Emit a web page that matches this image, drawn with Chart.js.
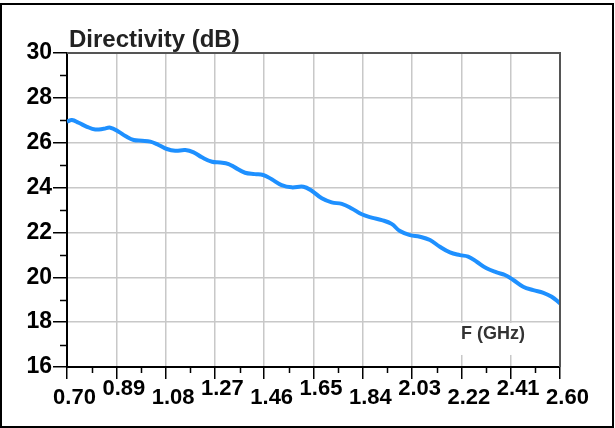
<!DOCTYPE html>
<html>
<head>
<meta charset="utf-8">
<script src="https://cdn.jsdelivr.net/npm/chart.js@4/dist/chart.umd.min.js"></script>
<style>
  html, body { margin: 0; padding: 0; background: #fff; }
  canvas { display: block; }
</style>
</head>
<body>
<canvas id="dirChart" width="615" height="428"></canvas>
<script>
// Directivity vs frequency
const freqGHz = [0.700, 0.719, 0.745, 0.777, 0.809, 0.841, 0.867, 0.899, 0.925, 0.957,
                 0.989, 1.021, 1.053, 1.085, 1.117, 1.156, 1.188, 1.220, 1.259, 1.291,
                 1.323, 1.347, 1.386, 1.424, 1.456, 1.489, 1.527, 1.566, 1.611, 1.643,
                 1.682, 1.720, 1.759, 1.797, 1.836, 1.874, 1.913, 1.951, 1.983, 2.022,
                 2.060, 2.099, 2.137, 2.176, 2.214, 2.246, 2.279, 2.317, 2.356, 2.388,
                 2.420, 2.458, 2.497, 2.536, 2.568, 2.600];
const directivityDb = [26.94, 27.01, 26.89, 26.71, 26.59, 26.62, 26.67, 26.49, 26.30, 26.12,
                       26.09, 26.05, 25.90, 25.72, 25.64, 25.67, 25.57, 25.35, 25.15, 25.12,
                       25.05, 24.90, 24.66, 24.60, 24.56, 24.37, 24.11, 24.01, 24.04, 23.86,
                       23.52, 23.34, 23.27, 23.07, 22.81, 22.66, 22.55, 22.38, 22.06, 21.88,
                       21.81, 21.66, 21.36, 21.11, 20.99, 20.92, 20.69, 20.40, 20.22, 20.10,
                       19.88, 19.58, 19.43, 19.31, 19.13, 18.84];

const xTickValues = [0.70, 0.89, 1.08, 1.27, 1.46, 1.65, 1.84, 2.03, 2.22, 2.41, 2.60];
const xTickLabels = ['0.70', '0.89', '1.08', '1.27', '1.46', '1.65', '1.84', '2.03', '2.22', '2.41', '2.60'];
const yMinorValues = [17, 19, 21, 23, 25, 27, 29];

const titleText = 'Directivity (dB)';
const xAxisText = 'F (GHz)';

const points = freqGHz.map((f, i) => ({ x: f, y: directivityDb[i] }));

const FONT = '"Liberation Sans", Arial, sans-serif';

// extra drawing: frame, minor ticks, alternating x labels, titles
const decorPlugin = {
    id: 'decor',
    beforeDatasetsDraw(chart) {
        const ctx = chart.ctx;
        const y = chart.scales.y;
        // white box behind the x axis caption
        const cx = 492, cy = y.getPixelForValue(17.25);
        ctx.save();
        ctx.fillStyle = '#fff';
        ctx.fillRect(cx - 40, cy - 16, 80, 32);
        ctx.restore();
    },
    afterDraw(chart) {
        const ctx = chart.ctx;
        const area = chart.chartArea;
        const x = chart.scales.x, y = chart.scales.y;
        ctx.save();

        // top and right edges of the plot box
        ctx.strokeStyle = '#555';
        ctx.lineWidth = 2;
        ctx.beginPath();
        ctx.moveTo(area.left, area.top);
        ctx.lineTo(area.right, area.top);
        ctx.lineTo(area.right, area.bottom);
        ctx.stroke();

        // minor ticks
        ctx.strokeStyle = '#000';
        ctx.lineWidth = 1.5;
        ctx.beginPath();
        yMinorValues.forEach(v => {
            const py = Math.round(y.getPixelForValue(v)) + 0.5;
            ctx.moveTo(area.left - 7, py);
            ctx.lineTo(area.left, py);
        });
        for (let i = 0; i < xTickValues.length - 1; i++) {
            const px = Math.round(x.getPixelForValue((xTickValues[i] + xTickValues[i + 1]) / 2)) + 0.5;
            ctx.moveTo(px, area.bottom);
            ctx.lineTo(px, area.bottom + 6);
        }
        ctx.stroke();

        // x tick labels, staggered
        ctx.fillStyle = '#000';
        ctx.font = 'bold 22px ' + FONT;
        ctx.textAlign = 'center';
        ctx.textBaseline = 'middle';
        xTickValues.forEach((v, i) => {
            const px = x.getPixelForValue(v) + 7.5;
            const py = i % 2 === 0 ? area.bottom + 31 : area.bottom + 22;
            ctx.fillText(xTickLabels[i], px, py);
        });

        // axis captions
        ctx.fillStyle = '#222';
        ctx.font = 'bold 24px ' + FONT;
        ctx.textAlign = 'left';
        ctx.fillText(titleText, 69, 40);

        ctx.fillStyle = '#333';
        ctx.font = 'bold 18px ' + FONT;
        ctx.textAlign = 'center';
        ctx.fillText(xAxisText, 493, 334);

        // outer frame
        ctx.strokeStyle = '#000';
        ctx.lineWidth = 2;
        ctx.strokeRect(1, 4, 612, 423);
        ctx.restore();
    }
};

new Chart(document.getElementById('dirChart'), {
    type: 'line',
    data: {
        datasets: [{
            data: points,
            borderColor: '#1e90ff',
            borderWidth: 4,
            pointRadius: 0,
            tension: 0.4,
            fill: false
        }]
    },
    options: {
        responsive: false,
        animation: false,
        devicePixelRatio: 1,
        layout: { padding: { top: 53, right: 55, left: 0, bottom: 0 } },
        plugins: {
            legend: { display: false },
            tooltip: { enabled: false },
            title: { display: false }
        },
        scales: {
            x: {
                type: 'linear',
                min: 0.70,
                max: 2.60,
                afterBuildTicks: scale => {
                    scale.ticks = xTickValues.map(v => ({ value: v }));
                },
                afterFit: scale => { scale.height = 61; },
                ticks: { display: false },
                grid: {
                    color: '#c8c8c8',
                    lineWidth: 1.5,
                    drawTicks: true,
                    tickLength: 12,
                    tickColor: '#000',
                    tickWidth: 1.5
                },
                border: { color: '#000', width: 2 }
            },
            y: {
                min: 16,
                max: 30,
                ticks: {
                    stepSize: 2,
                    padding: 1,
                    color: '#000',
                    font: { family: FONT, size: 23, weight: 'bold' }
                },
                afterFit: scale => { scale.width = 67; },
                grid: {
                    color: '#c8c8c8',
                    lineWidth: 1.5,
                    drawTicks: true,
                    tickLength: 14,
                    tickColor: '#000',
                    tickWidth: 1.5
                },
                border: { color: '#000', width: 2 }
            }
        }
    },
    plugins: [decorPlugin]
});
</script>
</body>
</html>
